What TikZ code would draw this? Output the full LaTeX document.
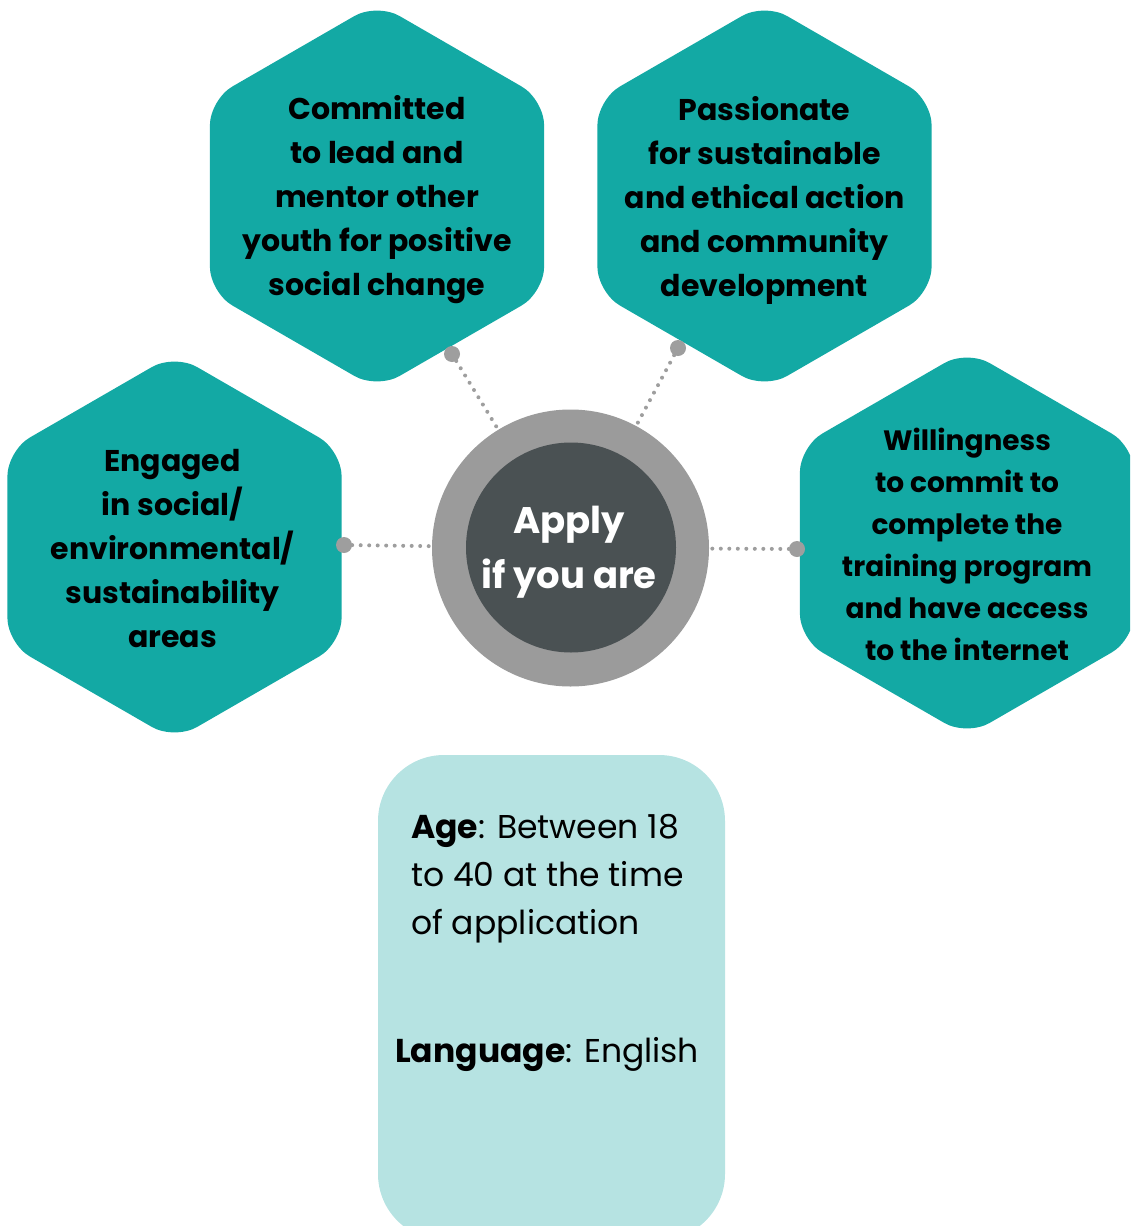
\documentclass[tikz,border=0pt]{standalone}
\usepackage{fontspec}
\setmainfont{Poppins}
\usetikzlibrary{shapes.geometric}

\definecolor{hexteal}{HTML}{13A9A4}
\definecolor{ringgray}{HTML}{9B9B9B}
\definecolor{coregray}{HTML}{4A5153}
\definecolor{boxteal}{HTML}{B6E3E2}
\definecolor{pingray}{HTML}{9E9E9E}

\begin{document}
\begin{tikzpicture}[x=1pt, y=-1pt,
    hex/.style={regular polygon, regular polygon sides=6, shape border rotate=30, minimum size=386pt, inner sep=0pt, fill=hexteal, rounded corners=26pt},
    txt/.style={align=center, font=\fontsize{30}{44}\selectfont\bfseries},
    pin/.style={circle, fill=pingray, minimum size=16pt, inner sep=0pt},
    link/.style={pingray, line width=4pt, line cap=round, dash pattern=on 0pt off 8.5pt}]

    \useasboundingbox (0,0) rectangle (1130,1226);
    \clip (0,0) rectangle (1130,1226);

    % hexagons
    \node[hex] (h1) at (377,196) {};
    \node[hex] (h2) at (764.5,196) {};
    \node[hex] (h3) at (174.5,547) {};
    \node[hex] (h4) at (967,543) {};

    \node[txt] (t1) at ([yshift=-4pt]h1.center) {Committed\\to lead and\\mentor other\\youth for positive\\social change};
    \node[txt] (t2) at ([yshift=-4pt]h2.center) {Passionate\\for sustainable\\and ethical action\\and community\\development};
    \node[txt] (t3) at ([xshift=-2pt, yshift=-2pt]h3.center) {Engaged\\in social/\\environmental/\\sustainability\\areas};
    \node[txt, font=\fontsize{28}{42}\selectfont\bfseries] (t4) at ([yshift=-1pt]h4.center) {Willingness\\to commit to\\complete the\\training program\\and have access\\to the internet};

    % centre
    \node[pin] (p1) at (452,354) {};
    \node[pin] (p2) at (678,348) {};
    \node[pin] (p3) at (344,545) {};
    \node[pin] (p4) at (797,549) {};

    \node[circle, fill=ringgray, minimum size=277pt, inner sep=0pt] (ring) at (570.5,548) {};
    \node[circle, fill=coregray, minimum size=210pt, inner sep=0pt] (core) at (571,547.5) {};
    \node[align=center, text=white, font=\fontsize{37}{55}\selectfont\bfseries] (apply) at (569,552) {Apply\\if you are};

    \draw[link] (p1) -- (ring);
    \draw[link] (p2) -- (ring);
    \draw[link] (p3) -- (ring);
    \draw[link] (p4) -- (ring);

    % age box
    \node[rectangle, rounded corners=66pt, fill=boxteal, minimum width=347pt, minimum height=485pt, inner sep=0pt] (agebox) at (551.5,997.5) {};
    \node[anchor=north west, inner sep=0pt, align=left, font=\fontsize{33}{48}\selectfont] (age) at (411,814) {\textbf{Age}: Between 18\\to 40 at the time\\of application};
    \node[anchor=base west, inner sep=0pt, font=\fontsize{33}{48}\selectfont] (lang) at (395,1062) {\textbf{Language}: English};
\end{tikzpicture}
\end{document}
